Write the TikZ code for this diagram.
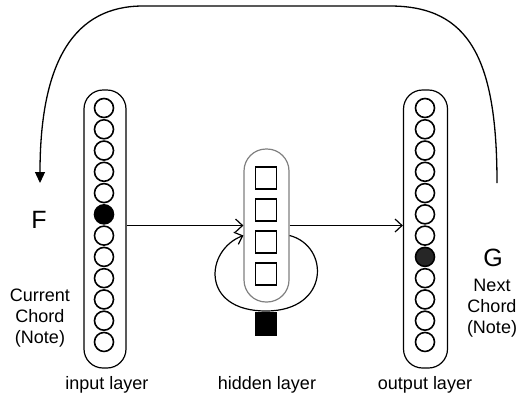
\documentclass[tikz,border=0pt]{standalone}
\usepackage{fontspec}
\setmainfont{Liberation Sans}
\usetikzlibrary{arrows.meta,shapes.geometric}
\begin{document}
\begin{tikzpicture}[x=1pt,y=-1pt,
 layerbox/.style={draw, line width=1.2pt, rounded corners=19pt, minimum width=42pt, minimum height=278pt, inner sep=0pt},
 unit/.style={draw, circle, line width=1.6pt, minimum size=19pt, inner sep=0pt},
 hunit/.style={draw, line width=1.6pt, minimum width=21pt, minimum height=22pt, inner sep=0pt},
 lbl/.style={font=\fontsize{18}{21}\selectfont, align=center, inner sep=0pt},
 biglbl/.style={font=\fontsize{25}{28}\selectfont, inner sep=0pt},
 conn/.style={line width=1.2pt, -{Straight Barb[length=7pt,width=13pt]}},
]
\useasboundingbox (0,0) rectangle (522,400);
% layers
\node[layerbox] (inL) at (105,229) {};
\node[layerbox, minimum width=44pt] (outL) at (425.5,229) {};
\node[layerbox, draw=gray, minimum width=45pt, minimum height=153pt, rounded corners=22pt] (hidL) at (266.5,225.5) {};
% units
\foreach \i in {0,...,11}{
  \ifnum\i=5 \def\fc{black}\else\def\fc{white}\fi
  \node[unit, fill=\fc] (in\i) at (104,108+21.27*\i) {};
}
\foreach \i in {0,...,11}{
  \ifnum\i=7 \def\fc{black!85}\else\def\fc{white}\fi
  \node[unit, fill=\fc] (out\i) at (425,108+21.27*\i) {};
}
\foreach \i/\y in {0/178,1/210,2/242,3/274}{
  \node[hunit] (h\i) at (266,\y) {};
}
\node[hunit, fill=black] (bias) at (266,324) {};
% connections
\draw[conn] (hidL.west -| inL.east) -- (hidL.west);
\draw[conn] (hidL.east) -- (hidL.east -| outL.west);
\draw[conn] ([yshift=-10pt]hidL.east) .. controls (330,246) and (330,311) .. (266,311)
  .. controls (200,311) and (205,250) .. ([yshift=-10pt]hidL.west);
% feedback arc
\coordinate (arcS) at (497,183);
\coordinate (arcE) at (40,183);
\draw[line width=1.3pt, -{Triangle[length=11pt,width=10pt]}] (arcS) .. controls (497,60) and (470,6) .. (390,6)
  -- (143,6) .. controls (75,6) and (40,60) .. (arcE);
% labels
\node[biglbl] (F) at (39,220) {F};
\node[biglbl] (G) at (493,258) {G};
\node[lbl] (cur) at (40,318) {Current\\Chord\\(Note)};
\node[lbl] (nxt) at (492,308) {Next\\Chord\\(Note)};
\node[lbl] (il) at (107,385) {input layer};
\node[lbl] (hl) at (267,385) {hidden layer};
\node[lbl] (ol) at (425,385) {output layer};
\end{tikzpicture}
\end{document}
